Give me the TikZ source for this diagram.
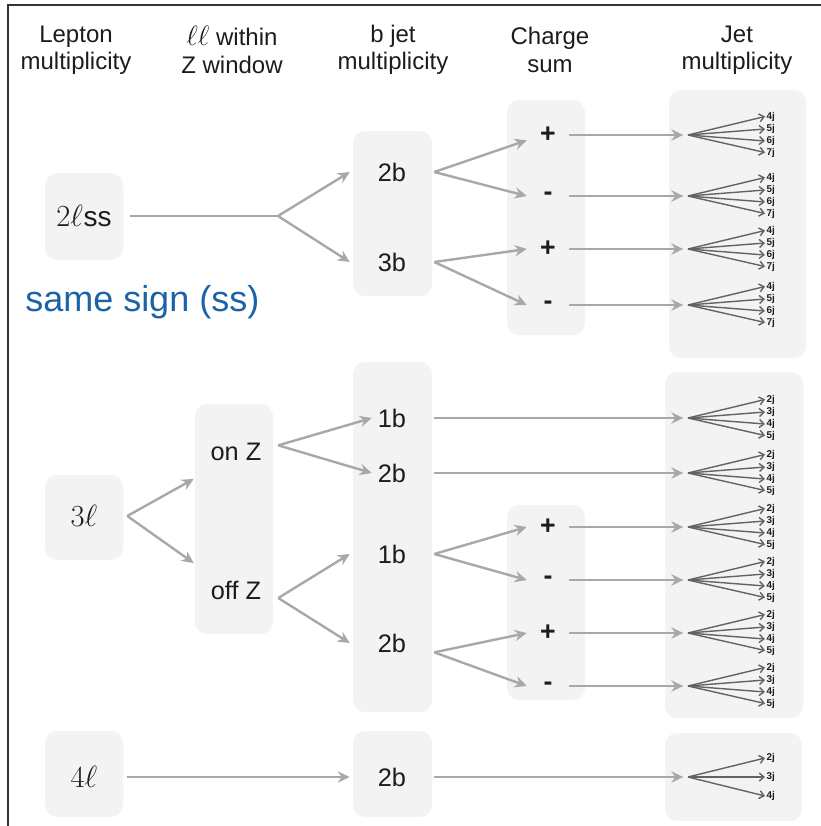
\RequirePackage{fix-cm}
\documentclass[tikz,border=0pt]{standalone}
\usepackage{fontspec}
\setmainfont{Liberation Sans}
\usetikzlibrary{arrows.meta}

\definecolor{panelgray}{HTML}{F3F3F3}
\definecolor{linkgray}{HTML}{A8A8A8}
\definecolor{fangray}{HTML}{636363}
\definecolor{inkdark}{HTML}{1C1C1C}
\definecolor{signblue}{HTML}{1B63A7}

% a fan of jet-multiplicity arrows: name, apex y, {label/offset,...}
\newcommand\jetfan[3]{%
  \coordinate (#1) at (688,#2);
  \foreach \lab/\dy [count=\k] in {#3} {
    \node[jl] (#1-\k) at (765,#2+\dy) {\lab};
    \draw[fanarr] (#1) -- (#1-\k.west);
  }%
}
% light rounded background panel: x1,y1,x2,y2
\newcommand\bgpanel[4]{\fill[panel] (#1,#2) rectangle (#3,#4);}
% lepton-count symbols, set a little larger than the sans text
\newcommand\lepmath[1]{{\fontsize{23}{26}\selectfont$#1$}}

\begin{document}
\begin{tikzpicture}[x=0.75pt,y=-0.75pt,
  panel/.style={fill=panelgray, rounded corners=9pt},
  head/.style={align=center, font=\fontsize{18}{20.5}\selectfont, text=inkdark, inner sep=0pt},
  lbl/.style={font=\fontsize{19}{22}\selectfont, text=inkdark, inner sep=3pt},
  lep/.style={lbl, minimum width=64.5pt},
  bjet/.style={lbl, minimum width=63pt},
  zlab/.style={lbl, minimum width=63pt, minimum height=40pt},
  sign/.style={font=\bfseries\fontsize{20}{22}\selectfont, text=inkdark, minimum width=31.5pt, inner sep=0pt},
  link/.style={draw=linkgray, line width=1.8pt},
  linkarr/.style={link, -{Stealth[length=9pt,width=8.5pt,inset=3pt]}},
  fanarr/.style={draw=fangray, line width=1.05pt, -{Straight Barb[length=3.5pt,width=6pt]}},
  jl/.style={font=\bfseries\fontsize{7.4}{8}\selectfont, text=inkdark, anchor=west, inner sep=1pt},
  frame/.style={draw=black!80, line width=1.5pt},
]
\useasboundingbox (0,0) rectangle (821,826);

% outer frame (top and left edges)
\draw[frame] (821,4.5) -- (7.5,4.5) -- (7.5,826);

% column headers
\node[head] (h-lep)  at (76,50)  {Lepton\\multiplicity};
\node[head] (h-z)    at (232,50) {{\fontsize{21}{20}\selectfont$\ell\ell$} within\\Z window};
\node[head] (h-b)    at (393,50) {b jet\\multiplicity};
\node[head] (h-q)    at (550,50) {Charge\\sum};
\node[head] (h-jet)  at (737,50) {Jet\\multiplicity};

% background panels
\bgpanel{45}{173}{123}{260}
\bgpanel{353}{131}{432}{296}
\bgpanel{507}{100}{585}{335}
\bgpanel{669}{90}{806}{358}
\bgpanel{45}{475}{123}{560}
\bgpanel{195}{404}{273}{634}
\bgpanel{353}{362}{432}{712}
\bgpanel{507}{505}{585}{700}
\bgpanel{665}{372}{803}{718}
\bgpanel{45}{731}{123}{817}
\bgpanel{353}{731}{432}{817}
\bgpanel{665}{733}{802}{821}

% ---------- same-sign dilepton branch ----------
\node[lep, minimum width=68pt, font=\fontsize{21}{24}\selectfont] (lss) at (84,216) {\lepmath{2\ell}\kern0.5pt ss};
\node[font=\fontsize{27}{30}\selectfont, text=signblue, anchor=west, inner sep=0pt] (sslabel) at (25,302) {same sign (ss)};
\coordinate (s1) at (278,216);
\node[bjet] (bt2) at (392,172) {2b};
\node[bjet] (bt3) at (392,262) {3b};
\node[sign] (c1) at (548,135) {+};
\node[sign] (c2) at (548,196) {-};
\node[sign] (c3) at (548,249) {+};
\node[sign] (c4) at (548,305) {-};

\draw[link] (lss.east) -- (s1);
\draw[linkarr] (s1) -- (bt2.west);
\draw[linkarr] (s1) -- (bt3.west);
\draw[linkarr] (bt2.east) -- ([yshift=-4pt]c1.west);
\draw[linkarr] (bt2.east) -- (c2.west);
\draw[linkarr] (bt3.east) -- (c3.west);
\draw[linkarr] (bt3.east) -- (c4.west);

\jetfan{f1}{135}{4j/-18.5,5j/-6,6j/6,7j/17.5}
\jetfan{f2}{196}{4j/-18.5,5j/-6,6j/6,7j/17.5}
\jetfan{f3}{249}{4j/-18.5,5j/-6,6j/6,7j/17.5}
\jetfan{f4}{305}{4j/-18.5,5j/-6,6j/6,7j/17.5}
\foreach \c/\f in {c1/f1,c2/f2,c3/f3,c4/f4}
  \draw[linkarr, shorten >=3.5pt] (\c.east) -- (\f);

% ---------- trilepton branch ----------
\node[lep] (l3) at (84,516) {\lepmath{3\ell}};
\node[zlab] (zon)  at (236,452) {on Z};
\node[zlab] (zoff) at (236,590) {off Z};
\node[bjet] (m1) at (392,418) {1b};
\node[bjet] (m2) at (392,473) {2b};
\node[bjet] (m3) at (392,554) {1b};
\node[bjet] (m4) at (392,643) {2b};
\node[sign] (d1) at (548,527) {+};
\node[sign] (d2) at (548,580) {-};
\node[sign] (d3) at (548,633) {+};
\node[sign] (d4) at (548,686) {-};

\draw[linkarr] (l3.east) -- (zon.south west);
\draw[linkarr] (l3.east) -- (zoff.north west);
\draw[linkarr] ([yshift=5pt]zon.east) -- ([xshift=16.5pt]m1.west);
\draw[linkarr] ([yshift=5pt]zon.east) -- ([xshift=16.5pt]m2.west);
\draw[linkarr] ([yshift=-6pt]zoff.east) -- (m3.west);
\draw[linkarr] ([yshift=-6pt]zoff.east) -- (m4.west);
\draw[linkarr] (m3.east) -- (d1.west);
\draw[linkarr] (m3.east) -- (d2.west);
\draw[linkarr] ([yshift=-7pt]m4.east) -- (d3.west);
\draw[linkarr] ([yshift=-7pt]m4.east) -- (d4.west);

\jetfan{g1}{418}{2j/-18.5,3j/-6,4j/6,5j/17.5}
\jetfan{g2}{473}{2j/-18.5,3j/-6,4j/6,5j/17.5}
\jetfan{g3}{527}{2j/-18.5,3j/-6,4j/6,5j/17.5}
\jetfan{g4}{580}{2j/-18.5,3j/-6,4j/6,5j/17.5}
\jetfan{g5}{633}{2j/-18.5,3j/-6,4j/6,5j/17.5}
\jetfan{g6}{686}{2j/-18.5,3j/-6,4j/6,5j/17.5}
\foreach \c/\f in {m1/g1,m2/g2,d1/g3,d2/g4,d3/g5,d4/g6}
  \draw[linkarr, shorten >=3.5pt] (\c.east) -- (\f);

% ---------- four-lepton branch ----------
\node[lep] (l4) at (84,777) {\lepmath{4\ell}};
\node[bjet] (bb) at (392,777) {2b};
\draw[linkarr] (l4.east) -- (bb.west);
\jetfan{h1}{777}{2j/-19,3j/0,4j/19}
\draw[linkarr, shorten >=3.5pt] (bb.east) -- (h1);

\end{tikzpicture}
\end{document}
